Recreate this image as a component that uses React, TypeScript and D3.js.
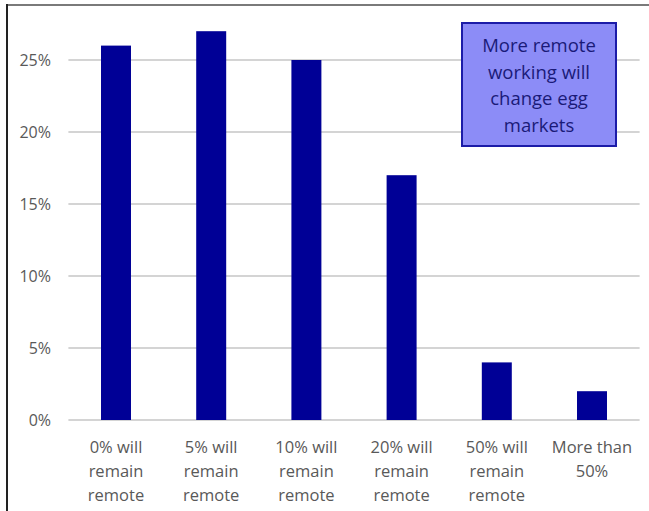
import React from "react";
import * as d3 from "d3";

const categories: string[][] = [
  ["0% will", "remain", "remote"],
  ["5% will", "remain", "remote"],
  ["10% will", "remain", "remote"],
  ["20% will", "remain", "remote"],
  ["50% will", "remain", "remote"],
  ["More than", "50%"],
];
const values: number[] = [26, 27, 25, 17, 4, 2];
const yTicks: number[] = [0, 5, 10, 15, 20, 25];
const noteLines: string[] = ["More remote", "working will", "change egg", "markets"];

const W = 649;
const H = 511;
const FONT = "'Open Sans', 'Lato', sans-serif";

export default function App() {
  const x = d3
    .scaleBand<number>()
    .domain(values.map((_, i) => i))
    .range([68.4, 639.6])
    .paddingInner(0.685)
    .paddingOuter(0.3425);
  const y = d3.scaleLinear().domain([0, 25]).range([420, 60]);

  return (
    <svg
      width={W}
      height={H}
      style={{ position: "absolute", left: 0, top: 0, background: "#fff" }}
    >
      {/* frame */}
      <line x1={6} x2={649} y1={5} y2={5} stroke="#7a7a7a" strokeWidth={2} />
      <line x1={7} x2={7} y1={4} y2={511} stroke="#222" strokeWidth={2} />

      {/* gridlines */}
      {yTicks.map((t) => (
        <line
          key={t}
          x1={68.4}
          x2={639.6}
          y1={y(t)}
          y2={y(t)}
          stroke="#d4d4d4"
          strokeWidth={2}
        />
      ))}

      {/* y tick labels */}
      {yTicks.map((t) => (
        <text
          key={t}
          x={51}
          y={y(t)}
          dy="0.35em"
          textAnchor="end"
          fontFamily={FONT}
          fontSize={16}
          fill="#595959"
        >
          {`${t}%`}
        </text>
      ))}

      {/* bars */}
      {values.map((v, i) => (
        <rect
          key={i}
          x={x(i)}
          y={y(v)}
          width={x.bandwidth()}
          height={y(0) - y(v)}
          fill="#000096"
        />
      ))}

      {/* category labels */}
      {categories.map((lines, i) => (
        <text
          key={i}
          textAnchor="middle"
          fontFamily={FONT}
          fontSize={16.5}
          fill="#595959"
        >
          {lines.map((l, j) => (
            <tspan key={j} x={(x(i) as number) + x.bandwidth() / 2} y={453 + j * 24}>
              {l}
            </tspan>
          ))}
        </text>
      ))}

      {/* annotation box */}
      <rect
        x={462}
        y={23}
        width={154}
        height={123}
        fill="#8c8cf7"
        stroke="#1c1ca8"
        strokeWidth={2}
      />
      <text textAnchor="middle" fontFamily={FONT} fontSize={18.5} fill="#1a1a78">
        {noteLines.map((l, j) => (
          <tspan key={j} x={539} y={52 + j * 26.5}>
            {l}
          </tspan>
        ))}
      </text>
    </svg>
  );
}
